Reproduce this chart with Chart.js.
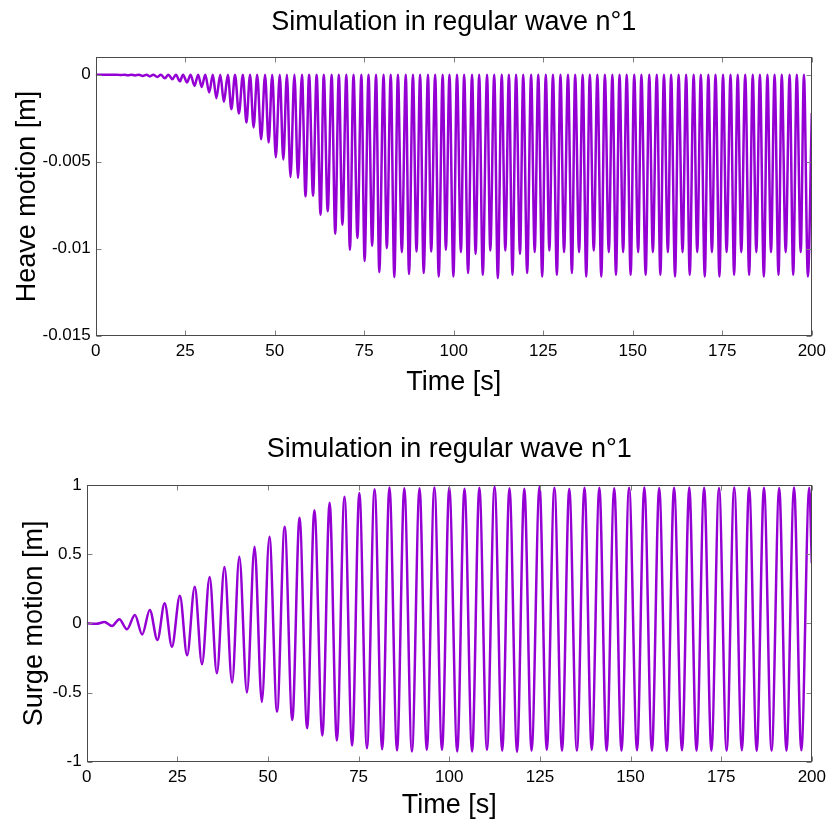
<!DOCTYPE html>
<html>
<head>
<meta charset="utf-8">
<script src="https://cdn.jsdelivr.net/npm/chart.js@4.4.1/dist/chart.umd.min.js"></script>
<style>
  html, body { margin: 0; padding: 0; background: #ffffff; }
  canvas { display: block; }
</style>
</head>
<body>
<canvas id="heave" width="831" height="412"></canvas>
<canvas id="surge" width="831" height="413"></canvas>
<script>
// ---- shared axis definitions ----
const chartTitle = 'Simulation in regular wave n°1';
const timeTicks = [0, 25, 50, 75, 100, 125, 150, 175, 200];

const heaveTickValues = [-0.015, -0.01, -0.005, 0];
const heaveTickLabels = ['-0.015', '-0.01', '-0.005', '0'];
const surgeTickValues = [-1, -0.5, 0, 0.5, 1];
const surgeTickLabels = ['-1', '-0.5', '0', '0.5', '1'];

// ---- heave motion: crests and troughs of the response [s], [m] ----
const heaveTime = [
  0, 6.0, 7.0, 8.0, 9.0, 10.0, 11.0, 12.1,
  13.1, 14.2, 15.1, 16.1, 17.2, 18.2, 19.3, 20.3, 21.4, 22.4, 23.5, 24.4,
  25.5, 26.5, 27.6, 28.6, 29.6, 30.6, 31.7, 32.7, 33.7, 34.8, 35.8, 36.9,
  37.9, 38.9, 40.0, 41.1, 42.1, 43.1, 44.1, 45.1, 46.2, 47.3, 48.3, 49.3,
  50.3, 51.4, 52.4, 53.4, 54.4, 55.5, 56.5, 57.6, 58.6, 59.6, 60.7, 61.7,
  62.8, 63.7, 64.8, 65.9, 66.9, 67.9, 68.9, 70.0, 71.0, 72.0, 73.1, 74.2,
  75.1, 76.2, 77.2, 78.3, 79.2, 80.4, 81.3, 82.4, 83.4, 84.4, 85.5, 86.6,
  87.5, 88.6, 89.6, 90.6, 91.6, 92.8, 93.7, 94.8, 95.8, 96.9, 97.8, 98.8,
  99.9, 100.9, 102.0, 102.9, 104.0, 105.1, 106.1, 107.1, 108.1, 109.3, 110.2, 111.3,
  112.3, 113.4, 114.4, 115.4, 116.4, 117.4, 118.5, 119.4, 120.5, 121.6, 122.6, 123.6,
  124.7, 125.7, 126.7, 127.7, 128.8, 129.8, 130.8, 131.9, 133.0, 133.9, 135.0, 136.0,
  137.0, 138.0, 139.1, 140.1, 141.2, 142.2, 143.3, 144.3, 145.3, 146.3, 147.3, 148.3,
  149.4, 150.4, 151.5, 152.4, 153.6, 154.6, 155.6, 156.7, 157.7, 158.7, 159.8, 160.7,
  161.8, 162.8, 163.9, 164.9, 165.9, 167.0, 168.0, 169.0, 170.1, 171.1, 172.1, 173.1,
  174.2, 175.2, 176.2, 177.3, 178.3, 179.3, 180.3, 181.4, 182.5, 183.5, 184.5, 185.5,
  186.6, 187.6, 188.6, 189.6, 190.7, 191.6, 192.7, 193.8, 194.8, 195.8, 196.9, 197.8,
  198.9, 200.0
];
const heaveValue = [
  0, 0, -0.00002, 0, -0.00003, 0, -0.00004, 0,
  -0.00007, 0, -0.0001, 0, -0.00013, 0, -0.0002, 0, -0.00026, 0, -0.00038, 0,
  -0.00044, 0, -0.00064, 0, -0.0007, 0, -0.00102, 0, -0.00135, 0, -0.00156, 0,
  -0.00198, 0, -0.00223, 0, -0.00275, 0, -0.00303, 0, -0.00371, 0, -0.0039, 0,
  -0.00475, 0, -0.00488, 0, -0.00588, 0, -0.00593, 0, -0.00699, 0, -0.00695, 0,
  -0.00805, 0, -0.00785, 0, -0.00914, 0, -0.00862, 0, -0.01006, 0, -0.00939, 0,
  -0.0107, 0, -0.00983, 0, -0.01135, 0, -0.00997, 0, -0.01164, 0, -0.0102, 0,
  -0.01146, 0, -0.01016, 0, -0.0114, 0, -0.01016, 0, -0.0116, 0, -0.01006, 0,
  -0.0116, 0, -0.0102, 0, -0.0114, 0, -0.0103, 0, -0.0115, 0, -0.0101, 0,
  -0.0117, 0, -0.0101, 0, -0.0115, 0, -0.0103, 0, -0.0114, 0, -0.0102, 0,
  -0.0116, 0, -0.0101, 0, -0.0115, 0, -0.0102, 0, -0.0114, 0, -0.0102, 0,
  -0.0116, 0, -0.0101, 0, -0.0116, 0, -0.0102, 0, -0.0115, 0, -0.0102, 0,
  -0.0115, 0, -0.0102, 0, -0.0115, 0, -0.0102, 0, -0.0115, 0, -0.0102, 0,
  -0.0116, 0, -0.0102, 0, -0.0115, 0, -0.0102, 0, -0.0116, 0, -0.0102, 0,
  -0.0116, 0, -0.0102, 0, -0.0115, 0, -0.0102, 0, -0.0115, 0, -0.0102, 0,
  -0.0116, 0, -0.0102, 0, -0.0115, 0, -0.0102, 0, -0.0115, 0, -0.0102, 0,
  -0.0116, -0.0022
];

// ---- surge motion: crests and troughs of the response [s], [m] ----
const surgeTime = [
  0, 2.6, 4.9, 7.0, 9.0, 11.1, 13.3, 15.3, 17.4, 19.5, 21.5, 23.5,
  25.7, 27.7, 29.8, 31.8, 33.9, 35.9, 38.0, 40.1, 42.1, 44.2, 46.3, 48.3,
  50.4, 52.5, 54.6, 56.7, 58.7, 60.8, 62.8, 65.0, 67.0, 69.0, 71.1, 73.2,
  75.2, 77.3, 79.4, 81.5, 83.5, 85.6, 87.6, 89.7, 91.8, 93.8, 95.9, 98.0,
  100.0, 102.2, 104.2, 106.3, 108.3, 110.4, 112.5, 114.6, 116.6, 118.7, 120.7, 122.7,
  124.9, 126.9, 129.0, 131.1, 133.1, 135.2, 137.3, 139.3, 141.4, 143.4, 145.5, 147.5,
  149.6, 151.8, 153.8, 155.9, 157.9, 160.0, 162.0, 164.2, 166.2, 168.2, 170.3, 172.3,
  174.4, 176.5, 178.6, 180.7, 182.7, 184.8, 186.8, 188.9, 191.0, 193.0, 195.1, 197.1,
  199.3, 200.0
];
const surgeValue = [
  0, -0.003, 0.009, -0.019, 0.030, -0.043, 0.060, -0.080, 0.097, -0.120, 0.146, -0.169,
  0.200, -0.231, 0.265, -0.296, 0.335, -0.361, 0.407, -0.428, 0.481, -0.500, 0.553, -0.568,
  0.626, -0.638, 0.698, -0.698, 0.763, -0.758, 0.818, -0.811, 0.871, -0.847, 0.915, -0.883,
  0.943, -0.903, 0.970, -0.910, 0.982, -0.919, 0.977, -0.927, 0.977, -0.915, 0.982, -0.915,
  0.982, -0.927, 0.973, -0.927, 0.980, -0.915, 0.987, -0.920, 0.977, -0.929, 0.973, -0.920,
  0.987, -0.915, 0.980, -0.920, 0.973, -0.920, 0.980, -0.915, 0.980, -0.920, 0.977, -0.920,
  0.980, -0.918, 0.982, -0.920, 0.978, -0.922, 0.980, -0.918, 0.982, -0.920, 0.980, -0.921,
  0.978, -0.920, 0.982, -0.918, 0.980, -0.922, 0.980, -0.920, 0.978, -0.920, 0.982, -0.918,
  0.980, 0.435
];

// ---- styling ----
const FONT = "'Liberation Sans', Arial, sans-serif";
const LINE_COLOR = '#9400d3';

// Closed box with inward tick marks on all four sides
const boxFrame = {
  id: 'boxFrame',
  afterDatasetsDraw(chart, args, opts) {
    const { ctx, chartArea: a, scales } = chart;
    const L = Math.round(a.left) + 0.5, R = Math.round(a.right) - 0.5;
    const T = Math.round(a.top) + 0.5, B = Math.round(a.bottom) - 0.5;
    const len = opts.tickLength;
    ctx.save();
    ctx.lineWidth = 1;
    ctx.strokeStyle = opts.tickColor;
    ctx.beginPath();
    scales.x.ticks.forEach(t => {
      const px = Math.round(scales.x.getPixelForValue(t.value)) + 0.5;
      ctx.moveTo(px, B); ctx.lineTo(px, B - len);
      ctx.moveTo(px, T); ctx.lineTo(px, T + len);
    });
    scales.y.ticks.forEach(t => {
      const py = Math.round(scales.y.getPixelForValue(t.value)) + 0.5;
      ctx.moveTo(L, py); ctx.lineTo(L + len, py);
      ctx.moveTo(R, py); ctx.lineTo(R - len, py);
    });
    ctx.stroke();
    ctx.strokeStyle = opts.color;
    ctx.strokeRect(L, T, R - L, B - T);
    ctx.restore();
  }
};

function buildChart(id, times, values, cfg) {
  const points = times.map((t, i) => ({ x: t, y: values[i] }));
  return new Chart(document.getElementById(id), {
    type: 'line',
    data: {
      datasets: [{
        data: points,
        borderColor: LINE_COLOR,
        borderWidth: 2.5,
        pointRadius: 0,
        fill: false,
        cubicInterpolationMode: 'monotone'
      }]
    },
    options: {
      responsive: false,
      animation: false,
      events: [],
      layout: { padding: { left: 0, right: cfg.padRight, top: 0, bottom: 0 } },
      plugins: {
        legend: { display: false },
        tooltip: { enabled: false },
        title: {
          display: true,
          text: chartTitle,
          fullSize: false,
          color: '#000',
          font: { family: FONT, size: 27, weight: 'normal' },
          padding: { top: cfg.titleTop, bottom: cfg.titleBottom }
        },
        boxFrame: { color: '#4a4a4a', tickColor: '#808080', tickLength: 5 }
      },
      scales: {
        x: {
          type: 'linear',
          min: 0,
          max: 200,
          grid: { display: false, drawTicks: false },
          border: { display: false },
          afterBuildTicks: s => { s.ticks = timeTicks.map(v => ({ value: v })); },
          afterFit: s => { s.height = cfg.xHeight; },
          ticks: {
            autoSkip: false, maxRotation: 0, padding: 5, color: '#000',
            font: { family: FONT, size: 17 },
            callback: v => String(v)
          },
          title: {
            display: true, text: 'Time [s]', color: '#000',
            font: { family: FONT, size: 27 },
            padding: { top: 0, bottom: cfg.xTitlePad }
          }
        },
        y: {
          type: 'linear',
          min: cfg.yMin,
          max: cfg.yMax,
          grid: { display: false, drawTicks: false },
          border: { display: false },
          afterBuildTicks: s => { s.ticks = cfg.tickValues.map(v => ({ value: v })); },
          afterFit: s => { s.width = cfg.yWidth; },
          ticks: {
            autoSkip: false, padding: 5, color: '#000',
            font: { family: FONT, size: 17 },
            callback: (v, i) => cfg.tickLabels[i]
          },
          title: {
            display: true, text: cfg.yTitle, color: '#000',
            font: { family: FONT, size: 27 },
            padding: { top: cfg.yTitlePad, bottom: 0 }
          }
        }
      }
    },
    plugins: [boxFrame]
  });
}

buildChart('heave', heaveTime, heaveValue, {
  yMin: -0.015, yMax: 0.001,
  tickValues: heaveTickValues, tickLabels: heaveTickLabels,
  yTitle: 'Heave motion [m]',
  yWidth: 95.7, padRight: 18.3,
  titleTop: 6.3, titleBottom: 18.6,
  xHeight: 76.3, xTitlePad: 12.8, yTitlePad: 11.3
});

buildChart('surge', surgeTime, surgeValue, {
  yMin: -1, yMax: 1,
  tickValues: surgeTickValues, tickLabels: surgeTickLabels,
  yTitle: 'Surge motion [m]',
  yWidth: 86.7, padRight: 18.7,
  titleTop: 21.8, titleBottom: 18.8,
  xHeight: 63.3, xTitlePad: 2.8, yTitlePad: 18.8
});
</script>
</body>
</html>
